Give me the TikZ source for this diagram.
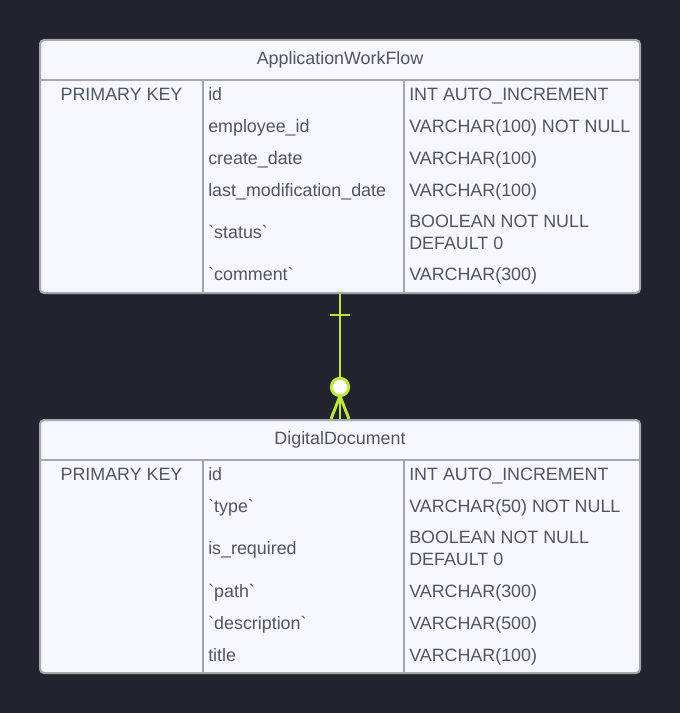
\documentclass[tikz,border=0pt]{standalone}
\usepackage{fontspec}
\setmainfont{Liberation Sans}[Ligatures=TeXOff]
\usetikzlibrary{calc}

\definecolor{bgdark}{RGB}{33,36,44}
\definecolor{tblfill}{RGB}{245,249,255}
\definecolor{tblline}{RGB}{165,167,172}
\definecolor{txtgray}{RGB}{80,85,96}
\definecolor{relgreen}{RGB}{190,232,60}
\newcommand{\bq}{\symbol{96}}

\begin{document}
\begin{tikzpicture}[x=0.75pt,y=-0.75pt,
		tbl/.style={draw=tblline,line width=1.5pt,fill=tblfill,rounded corners=3pt,inner sep=0pt,minimum width=450pt,minimum height=189.75pt},
		sep/.style={draw=tblline,line width=1.5pt},
		cell/.style={anchor=base west,inner sep=0pt,text=txtgray,font=\fontsize{13.4}{16.5}\selectfont,align=left},
		hdr/.style={cell,anchor=base},
		rel/.style={draw=relgreen,line width=2.2pt}]
		\useasboundingbox (0,0) rectangle (680,713);
		\fill [bgdark] (0,0) rectangle (680,713);
		% ApplicationWorkFlow
		\node [tbl] (awf) at (340,166.5) {};
		\node [hdr] (awf-title) at (340,64.4) {ApplicationWorkFlow};
		\draw [sep] (40,80) -- (640,80);
		\draw [sep] (203,80) -- (203,293);
		\draw [sep] (404,80) -- (404,293);
		\node [hdr] (awf-key) at (121.5,100.4) {PRIMARY KEY};
		\foreach \y/\n/\t [count=\i] in {100.4/id/INT AUTO\_INCREMENT,
				132.4/employee\_id/VARCHAR(100) NOT NULL,
				164.4/create\_date/VARCHAR(100),
				196.4/last\_modification\_date/VARCHAR(100),
				249.4/{}/{BOOLEAN NOT NULL\\DEFAULT 0},
				280.4/\bq comment\bq/VARCHAR(300)} {
			\node [cell] (awf-n\i) at (208,\y) {\n};
			\node [cell] (awf-t\i) at (409,\y) {\t};
		}
		\node [cell] (awf-status) at (208,238.4) {\bq status\bq};
		% DigitalDocument
		\node [tbl] (dd) at (340,546.5) {};
		\node [hdr] (dd-title) at (340,444.4) {DigitalDocument};
		\draw [sep] (40,460) -- (640,460);
		\draw [sep] (203,460) -- (203,673);
		\draw [sep] (404,460) -- (404,673);
		\node [hdr] (dd-key) at (121.5,480.4) {PRIMARY KEY};
		\foreach \y/\n/\t [count=\i] in {480.4/id/INT AUTO\_INCREMENT,
				512.4/\bq type\bq/VARCHAR(50) NOT NULL,
				565.4/{}/{BOOLEAN NOT NULL\\DEFAULT 0},
				597.4/\bq path\bq/VARCHAR(300),
				629.4/\bq description\bq/VARCHAR(500),
				661.4/title/VARCHAR(100)} {
			\node [cell] (dd-n\i) at (208,\y) {\n};
			\node [cell] (dd-t\i) at (409,\y) {\t};
		}
		\node [cell] (dd-required) at (208,554.4) {is\_required};
		% one to zero-or-many
		\coordinate (bar) at ($(awf.south)+(0,21)$);
		\coordinate (ring) at ($(dd.north)+(0,-32)$);
		\coordinate (foot) at ($(dd.north)+(0,-23)$);
		\draw [rel] (awf.south) -- (dd.north);
		\draw [rel] ($(bar)+(-10,0)$) -- ($(bar)+(10,0)$);
		\draw [rel,fill=white] (ring) circle (8.7);
		\draw [rel] (foot) -- ($(dd.north)+(-9,0)$);
		\draw [rel] (foot) -- ($(dd.north)+(9,0)$);
	\end{tikzpicture}
\end{document}
